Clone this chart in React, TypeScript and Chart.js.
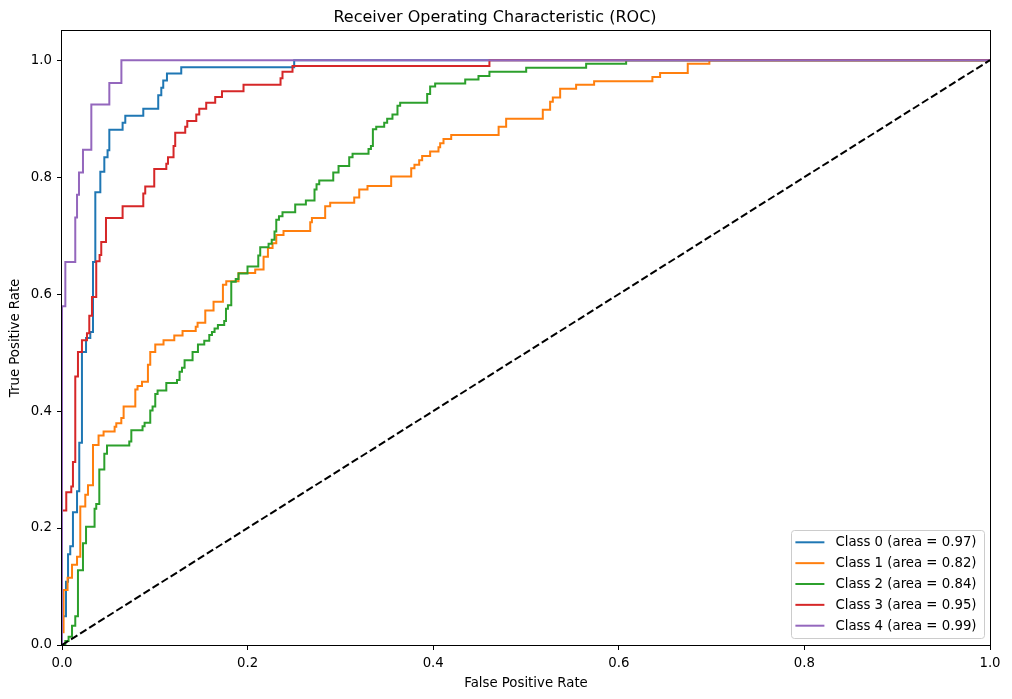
import { useEffect, useRef } from "react";
import { Chart, registerables } from "chart.js";

Chart.register(...registerables);

const FONT = '"DejaVu Sans", sans-serif';

// Class 0 (tpr tops of each vertical step)
const class0Fpr = [0, 0, 0.0043, 0.0065, 0.0089, 0.0118, 0.0162, 0.0186, 0.0215, 0.0259, 0.0305, 0.0334, 0.0359, 0.0413, 0.0456, 0.0491, 0.051, 0.0653, 0.0682, 0.0876, 0.1037, 0.107, 0.1091, 0.1131, 0.1285, 0.2502, 1.0];
const class0Tpr = [0, 0.049, 0.108, 0.155, 0.169, 0.227, 0.263, 0.346, 0.501, 0.525, 0.535, 0.655, 0.774, 0.809, 0.834, 0.846, 0.881, 0.893, 0.905, 0.917, 0.94, 0.953, 0.965, 0.977, 0.988, 1.0, 1.0];

const class1Fpr = [0, 0, 0.0017, 0.006, 0.0108, 0.0162, 0.0197, 0.0251, 0.028, 0.0334, 0.0394, 0.0448, 0.0567, 0.0585, 0.0639, 0.0664, 0.079, 0.0814, 0.0862, 0.0926, 0.0951, 0.1005, 0.1094, 0.121, 0.1299, 0.1441, 0.1461, 0.1544, 0.1633, 0.1734, 0.177, 0.1902, 0.2082, 0.2172, 0.2219, 0.2269, 0.2309, 0.2387, 0.2675, 0.2693, 0.2836, 0.289, 0.3149, 0.3203, 0.3292, 0.3547, 0.3763, 0.3798, 0.3849, 0.3881, 0.3967, 0.4057, 0.4075, 0.4111, 0.4194, 0.4705, 0.4786, 0.5181, 0.526, 0.5289, 0.5368, 0.554, 0.5734, 0.6362, 0.6445, 0.6743, 0.6976, 1.0];
const class1Tpr = [0, 0.022, 0.094, 0.115, 0.137, 0.151, 0.237, 0.257, 0.273, 0.342, 0.358, 0.365, 0.373, 0.379, 0.388, 0.408, 0.437, 0.443, 0.45, 0.479, 0.501, 0.514, 0.521, 0.529, 0.537, 0.544, 0.551, 0.572, 0.587, 0.616, 0.622, 0.636, 0.642, 0.664, 0.679, 0.687, 0.701, 0.708, 0.723, 0.73, 0.75, 0.756, 0.765, 0.779, 0.785, 0.801, 0.815, 0.821, 0.829, 0.836, 0.844, 0.851, 0.858, 0.865, 0.872, 0.886, 0.9, 0.915, 0.929, 0.936, 0.951, 0.958, 0.964, 0.971, 0.978, 0.994, 1.0, 1.0];

const class2Fpr = [0, 0.0036, 0.0071, 0.0108, 0.0143, 0.0172, 0.0226, 0.0259, 0.0351, 0.0369, 0.0402, 0.0456, 0.0485, 0.0725, 0.0747, 0.0868, 0.089, 0.0951, 0.0976, 0.1005, 0.103, 0.1124, 0.1239, 0.1267, 0.1293, 0.1321, 0.1407, 0.1465, 0.1533, 0.1587, 0.1616, 0.1644, 0.168, 0.1748, 0.1767, 0.1788, 0.1824, 0.1872, 0.1902, 0.1999, 0.2115, 0.2136, 0.2226, 0.226, 0.229, 0.2309, 0.2338, 0.2376, 0.2513, 0.2628, 0.2721, 0.2743, 0.2772, 0.2923, 0.298, 0.3095, 0.3131, 0.3303, 0.3329, 0.335, 0.3386, 0.3472, 0.3504, 0.3561, 0.3615, 0.3644, 0.3935, 0.3967, 0.4021, 0.4345, 0.4488, 0.4606, 0.5002, 0.5648, 0.6079, 1.0];
const class2Tpr = [0, 0.007, 0.014, 0.033, 0.049, 0.128, 0.174, 0.202, 0.233, 0.241, 0.3, 0.327, 0.341, 0.348, 0.367, 0.374, 0.38, 0.401, 0.408, 0.429, 0.435, 0.448, 0.453, 0.467, 0.474, 0.487, 0.501, 0.514, 0.52, 0.53, 0.535, 0.541, 0.547, 0.554, 0.575, 0.581, 0.621, 0.626, 0.635, 0.647, 0.666, 0.68, 0.686, 0.693, 0.707, 0.727, 0.733, 0.74, 0.753, 0.76, 0.779, 0.788, 0.794, 0.808, 0.819, 0.834, 0.84, 0.848, 0.853, 0.882, 0.886, 0.893, 0.9, 0.907, 0.922, 0.927, 0.942, 0.955, 0.96, 0.967, 0.973, 0.98, 0.987, 0.994, 1.0, 1.0];

const class3Fpr = [0, 0, 0.0046, 0.01, 0.0118, 0.0143, 0.0172, 0.0215, 0.0269, 0.0294, 0.0323, 0.0369, 0.0405, 0.0423, 0.0474, 0.0653, 0.0876, 0.0897, 0.0994, 0.1124, 0.1142, 0.1202, 0.122, 0.1328, 0.135, 0.1447, 0.1479, 0.1554, 0.1651, 0.1724, 0.1956, 0.2355, 0.2376, 0.2484, 0.4606, 1.0];
const class3Tpr = [0, 0.23, 0.261, 0.271, 0.313, 0.459, 0.501, 0.521, 0.533, 0.563, 0.595, 0.656, 0.667, 0.689, 0.73, 0.75, 0.772, 0.784, 0.814, 0.823, 0.834, 0.853, 0.876, 0.886, 0.896, 0.907, 0.917, 0.927, 0.937, 0.947, 0.958, 0.969, 0.98, 0.99, 1.0, 1.0];

const class4Fpr = [0, 0, 0.0036, 0.0143, 0.0162, 0.0183, 0.0226, 0.0316, 0.051, 0.064, 1.0];
const class4Tpr = [0, 0.579, 0.655, 0.731, 0.77, 0.808, 0.847, 0.924, 0.961, 1.0, 1.0];

const chanceX = [0, 1];
const chanceY = [0, 1];

const classLabels = [
  "Class 0 (area = 0.97)",
  "Class 1 (area = 0.82)",
  "Class 2 (area = 0.84)",
  "Class 3 (area = 0.95)",
  "Class 4 (area = 0.99)",
];
const classColors = ["#1f77b4", "#ff7f0e", "#2ca02c", "#d62728", "#9467bd"];
const axisTicks = [0, 0.2, 0.4, 0.6, 0.8, 1.0];

export default function App() {
  const ref = useRef<HTMLCanvasElement>(null);

  useEffect(() => {
    document.body.style.margin = "0";
    const canvas = ref.current;
    if (!canvas) return;
    const series = [
      [class0Fpr, class0Tpr],
      [class1Fpr, class1Tpr],
      [class2Fpr, class2Tpr],
      [class3Fpr, class3Tpr],
      [class4Fpr, class4Tpr],
    ];
    const datasets: any[] = series.map(([fx, ty], i) => ({
      label: classLabels[i],
      data: fx.map((x, j) => ({ x, y: ty[j] })),
      borderColor: classColors[i],
      backgroundColor: classColors[i],
      borderWidth: 2,
      pointRadius: 0,
      stepped: true,
      fill: false,
      order: 6 - i,
    }));
    datasets.push({
      label: "chance",
      data: chanceX.map((x, j) => ({ x, y: chanceY[j] })),
      borderColor: "#000000",
      borderWidth: 2,
      borderDash: [7.5, 3.2],
      pointRadius: 0,
      fill: false,
      order: 0,
    });

    const framePlugin = {
      id: "frame",
      afterDatasetsDraw(chart: any) {
        const { ctx, chartArea } = chart;
        ctx.save();
        ctx.strokeStyle = "#000";
        ctx.lineWidth = 1;
        const l = Math.round(chartArea.left) - 0.5;
        const t = Math.round(chartArea.top) - 0.5;
        const r = Math.round(chartArea.right) + 0.5;
        const b = Math.round(chartArea.bottom) + 0.5;
        ctx.strokeRect(l, t, r - l, b - t);
        ctx.restore();
      },
    };

    const legendPlugin = {
      id: "insideLegend",
      afterDraw(chart: any) {
        const { ctx, chartArea } = chart;
        ctx.save();
        ctx.font = `13.3px ${FONT}`;
        const maxW = Math.max(...classLabels.map((t) => ctx.measureText(t).width));
        const w = Math.round(44.4 + maxW + 7.3);
        const h = 108;
        const x0 = Math.round(chartArea.right - 6 - w);
        const y0 = Math.round(chartArea.bottom - 7 - h);
        ctx.beginPath();
        if (ctx.roundRect) ctx.roundRect(x0 + 0.5, y0 + 0.5, w, h, 3);
        else ctx.rect(x0 + 0.5, y0 + 0.5, w, h);
        ctx.fillStyle = "rgba(255,255,255,0.8)";
        ctx.fill();
        ctx.strokeStyle = "#cccccc";
        ctx.lineWidth = 1;
        ctx.stroke();
        classLabels.forEach((label, i) => {
          const cy = y0 + 12.3 + i * 20.85;
          ctx.beginPath();
          ctx.strokeStyle = classColors[i];
          ctx.lineWidth = 2;
          ctx.moveTo(x0 + 4.4, cy);
          ctx.lineTo(x0 + 33.4, cy);
          ctx.stroke();
          ctx.fillStyle = "#000";
          ctx.textBaseline = "middle";
          ctx.textAlign = "left";
          ctx.fillText(label, x0 + 44.4, cy + 0.5);
        });
        ctx.restore();
      },
    };

    const tickFormat = (v: any) => Number(v).toFixed(1);

    const chart = new Chart(canvas, {
      type: "line",
      data: { datasets },
      options: {
        responsive: false,
        animation: false,
        devicePixelRatio: 1,
        events: [],
        layout: { padding: { left: 0, right: 22, top: 0, bottom: 0 } },
        plugins: {
          legend: { display: false },
          tooltip: { enabled: false },
          title: {
            display: true,
            text: "Receiver Operating Characteristic (ROC)",
            color: "#000",
            font: { size: 16, family: FONT, weight: "normal" },
            padding: { top: 8.5, bottom: 3.2 },
          },
        },
        scales: {
          x: {
            type: "linear",
            min: 0,
            max: 1,
            afterBuildTicks: (s: any) => {
              s.ticks = axisTicks.map((v) => ({ value: v }));
            },
            afterFit: (s: any) => {
              s.height = 54;
            },
            ticks: {
              color: "#000",
              font: { size: 13.3, family: FONT },
              padding: 6,
              maxRotation: 0,
              autoSkip: false,
              callback: tickFormat,
            },
            grid: {
              display: true,
              drawOnChartArea: false,
              drawTicks: true,
              tickLength: 5,
              color: "#000",
              lineWidth: 1,
            },
            border: { display: false },
            title: {
              display: true,
              text: "False Positive Rate",
              color: "#000",
              font: { size: 13.3, family: FONT },
              padding: { top: 0, bottom: 7 },
            },
          },
          y: {
            type: "linear",
            min: 0,
            max: 1.05,
            afterBuildTicks: (s: any) => {
              s.ticks = axisTicks.map((v) => ({ value: v }));
            },
            afterFit: (s: any) => {
              s.width = 62;
            },
            ticks: {
              color: "#000",
              font: { size: 13.3, family: FONT },
              padding: 5,
              autoSkip: false,
              callback: tickFormat,
            },
            grid: {
              display: true,
              drawOnChartArea: false,
              drawTicks: true,
              tickLength: 5,
              color: "#000",
              lineWidth: 1,
            },
            border: { display: false },
            title: {
              display: true,
              text: "True Positive Rate",
              color: "#000",
              font: { size: 13.3, family: FONT },
              padding: { top: 8, bottom: 0 },
            },
          },
        },
      },
      plugins: [framePlugin, legendPlugin],
    } as any);

    return () => chart.destroy();
  }, []);

  return (
    <div style={{ position: "absolute", left: 0, top: 0, width: 1012, height: 699 }}>
      <canvas ref={ref} width={1012} height={699} style={{ display: "block" }} />
    </div>
  );
}
